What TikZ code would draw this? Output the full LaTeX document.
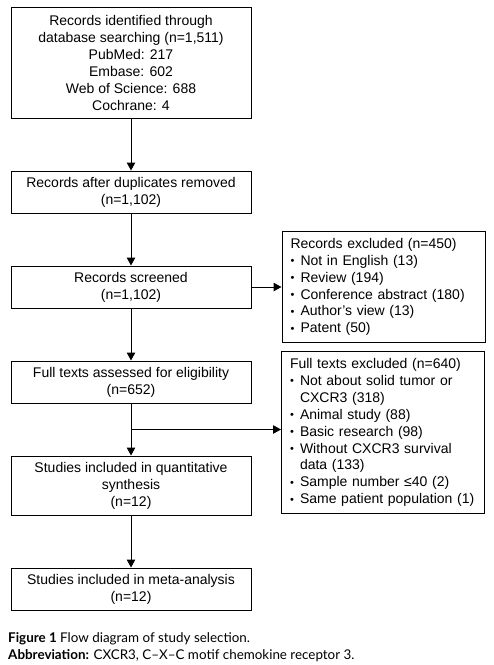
\documentclass[tikz,border=0pt]{standalone}
\usepackage{fontspec}
\setmainfont{Liberation Sans}
\newfontfamily\capfont{Lato}
\usetikzlibrary{positioning,arrows.meta}
\newcommand{\bul}{\makebox[10pt][l]{\raisebox{0.5pt}{\fontsize{11}{11}\selectfont •}}}
\newcommand{\cont}{\hspace*{10pt}}

\begin{document}
\begin{tikzpicture}[x=1pt, y=-1pt, node distance=52pt, font=\fontsize{14}{17}\selectfont]
    % Define node styles
    \tikzstyle{stage} = [draw, line width=1pt, minimum width=240pt, minimum height=42pt, inner sep=2pt, align=center]
    \tikzstyle{excluded} = [draw, line width=1pt, text width=186pt, inner xsep=8.5pt, inner ysep=2pt, align=left, font=\fontsize{14}{16.9}\selectfont]
    \tikzstyle{arrow} = [line width=1pt, -{Triangle[length=8pt, width=8.5pt]}]
    \tikzstyle{caption} = [anchor=base west, inner sep=0pt, font=\capfont\fontsize{13.4}{15}\selectfont]

    \useasboundingbox (0,0) rectangle (494,665);

    % Nodes
    \node[stage, minimum height=111pt] (identified) at (131,62.5) {Records identified through\\database searching (n=1,511)\\PubMed: 217\\Embase: 602\\Web of Science: 688\\Cochrane: 4};
    \node[stage] (dedup) [below=of identified] {Records after duplicates removed\\(n=1,102)};
    \node[stage] (screened) [below=of dedup] {Records screened\\(n=1,102)};
    \node[excluded, minimum height=111pt] (recexcl) [right=30pt of screened] {Records excluded (n=450)\\\bul Not in English (13)\\\bul Review (194)\\\bul Conference abstract (180)\\\bul Author’s view (13)\\\bul Patent (50)};
    \node[stage] (fulltext) [below=of screened] {Full texts assessed for eligibility\\(n=652)};
    \coordinate[below=26pt of fulltext] (split);
    \node[stage, minimum height=59pt] (quant) [below=of fulltext] {Studies included in quantitative\\synthesis\\(n=12)};
    \node[excluded, minimum height=162pt] (fullexcl) [right=150pt of split, yshift=-3pt] {Full texts excluded (n=640)\\\bul Not about solid tumor or\\\cont CXCR3 (318)\\\bul Animal study (88)\\\bul Basic research (98)\\\bul Without CXCR3 survival\\\cont data (133)\\\bul Sample number ≤40 (2)\\\bul Same patient population (1)};
    \node[stage] (meta) [below=of quant] {Studies included in meta-analysis\\(n=12)};

    % Caption
    \node[caption] (figcap) at (8,642) {\textbf{Figure 1} Flow diagram of study selection.};
    \node[caption] (abbrev) at (8,659) {\textbf{Abbreviation:} CXCR3, C–X–C motif chemokine receptor 3.};

    % Edges
    \draw[arrow] (identified) -- (dedup);
    \draw[arrow] (dedup) -- (screened);
    \draw[arrow] (screened) -- (recexcl);
    \draw[arrow] (screened) -- (fulltext);
    \draw[line width=1pt] (fulltext) -- (split);
    \draw[arrow] (split) -- (quant);
    \draw[arrow] (split) -- (split -| fullexcl.west);
    \draw[arrow] (quant) -- (meta);
\end{tikzpicture}
\end{document}
